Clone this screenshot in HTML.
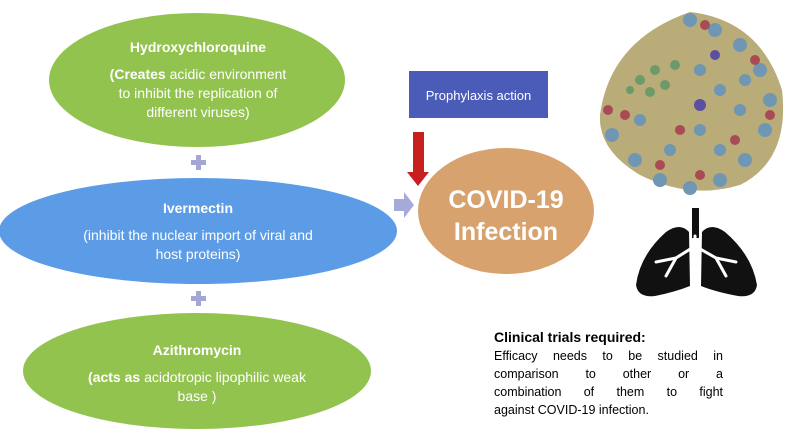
<!DOCTYPE html>
<html><head><meta charset="utf-8"><style>
body{margin:0;width:787px;height:434px;background:#fff;overflow:hidden;font-family:"Liberation Sans",sans-serif}
.t{position:absolute;color:#fff;text-align:center;font-size:14px;line-height:19px}
.j{text-align:justify;text-align-last:justify;white-space:nowrap}
</style></head><body>
<svg width="787" height="434" style="position:absolute;left:0;top:0">
<ellipse cx="197" cy="80" rx="148" ry="67" fill="#93c34f"/>
<ellipse cx="198" cy="231" rx="199" ry="53" fill="#5c9ce6"/>
<ellipse cx="197" cy="371" rx="174" ry="58" fill="#93c34f"/>
<g fill="#a4a7d6">
<rect x="191" y="160" width="15" height="5"/><rect x="196" y="155" width="5" height="15"/>
<rect x="191" y="296" width="15" height="5"/><rect x="196" y="291" width="5" height="15"/>
</g>
<polygon points="394,199 404,199 404,192 414,205 404,218 404,211 394,211" fill="#a6aad8"/>
<ellipse cx="506" cy="211" rx="88" ry="63" fill="#d8a26f"/>
<rect x="409" y="71" width="139" height="47" fill="#4a5bb8"/>
<polygon points="413,132 424,132 424,172 429,172 418,186 407,172 413,172" fill="#c81f1f"/>
<!-- virus -->
<g>
<path d="M600,115 Q610,40 690,12 Q760,20 782,90 Q790,160 740,185 Q690,200 640,175 Q598,150 600,115Z" fill="#b9ac79"/>
<g fill="#6f97b4"><circle cx="690" cy="20" r="7"/><circle cx="715" cy="30" r="7"/><circle cx="740" cy="45" r="7"/><circle cx="760" cy="70" r="7"/><circle cx="770" cy="100" r="7"/><circle cx="765" cy="130" r="7"/><circle cx="745" cy="160" r="7"/><circle cx="720" cy="180" r="7"/><circle cx="690" cy="188" r="7"/><circle cx="660" cy="180" r="7"/><circle cx="635" cy="160" r="7"/><circle cx="612" cy="135" r="7"/><circle cx="700" cy="70" r="6"/><circle cx="720" cy="90" r="6"/><circle cx="740" cy="110" r="6"/><circle cx="700" cy="130" r="6"/><circle cx="670" cy="150" r="6"/><circle cx="640" cy="120" r="6"/><circle cx="720" cy="150" r="6"/><circle cx="745" cy="80" r="6"/></g>
<g fill="#a94a55"><circle cx="705" cy="25" r="5"/><circle cx="755" cy="60" r="5"/><circle cx="608" cy="110" r="5"/><circle cx="625" cy="115" r="5"/><circle cx="680" cy="130" r="5"/><circle cx="735" cy="140" r="5"/><circle cx="660" cy="165" r="5"/><circle cx="700" cy="175" r="5"/><circle cx="770" cy="115" r="5"/></g>
<g fill="#6c9a6a"><circle cx="640" cy="80" r="5"/><circle cx="655" cy="70" r="5"/><circle cx="665" cy="85" r="5"/><circle cx="650" cy="92" r="5"/><circle cx="675" cy="65" r="5"/><circle cx="630" cy="90" r="4"/></g>
<circle cx="700" cy="105" r="6" fill="#5a4fa0"/><circle cx="715" cy="55" r="5" fill="#5a4fa0"/>
</g>
<!-- lungs -->
<g fill="#111">
<rect x="692" y="208" width="7" height="30"/>
<path d="M689,232 Q680,222 666,232 Q640,255 636,285 Q638,298 655,296 Q675,292 690,286Z"/>
<path d="M702,232 Q711,222 725,232 Q752,255 757,285 Q755,298 738,296 Q716,292 701,286Z"/>
</g>
<g stroke="#fff" stroke-width="3" fill="none" stroke-linecap="round"><path d="M695,236 L695,246 L676,258 L666,276 M676,258 L656,262 M695,246 L716,258 L726,276 M716,258 L736,262"/></g>
</svg>
<div class="t" style="left:50px;top:38px;width:296px;font-weight:bold">Hydroxychloroquine</div>
<div class="t" style="left:50px;top:65px;width:296px"><b>(Creates</b> acidic environment<br>to inhibit the replication of<br>different viruses)</div>
<div class="t" style="left:0;top:199px;width:396px;font-weight:bold">Ivermectin</div>
<div class="t" style="left:0;top:226px;width:396px">(inhibit the nuclear import of viral and<br>host proteins)</div>
<div class="t" style="left:23px;top:341px;width:348px;font-weight:bold">Azithromycin</div>
<div class="t" style="left:23px;top:368px;width:348px"><b>(acts as</b> acidotropic lipophilic weak<br>base )</div>
<div class="t" style="left:409px;top:86px;width:139px;font-size:13px">Prophylaxis action</div>
<div class="t" style="left:418px;top:184px;width:176px;font-size:25px;line-height:32px;font-weight:bold">COVID-19<br>Infection</div>
<div style="position:absolute;left:494px;top:329px;font-size:14px;font-weight:bold">Clinical trials required:</div>
<div style="position:absolute;left:494px;top:347px;width:229px;font-size:12.5px;line-height:18px">
<div class="j">Efficacy needs to be studied in</div>
<div class="j">comparison to other or a</div>
<div class="j">combination of them to fight</div>
<div>against COVID-19 infection.</div>
</div>
</body></html>
